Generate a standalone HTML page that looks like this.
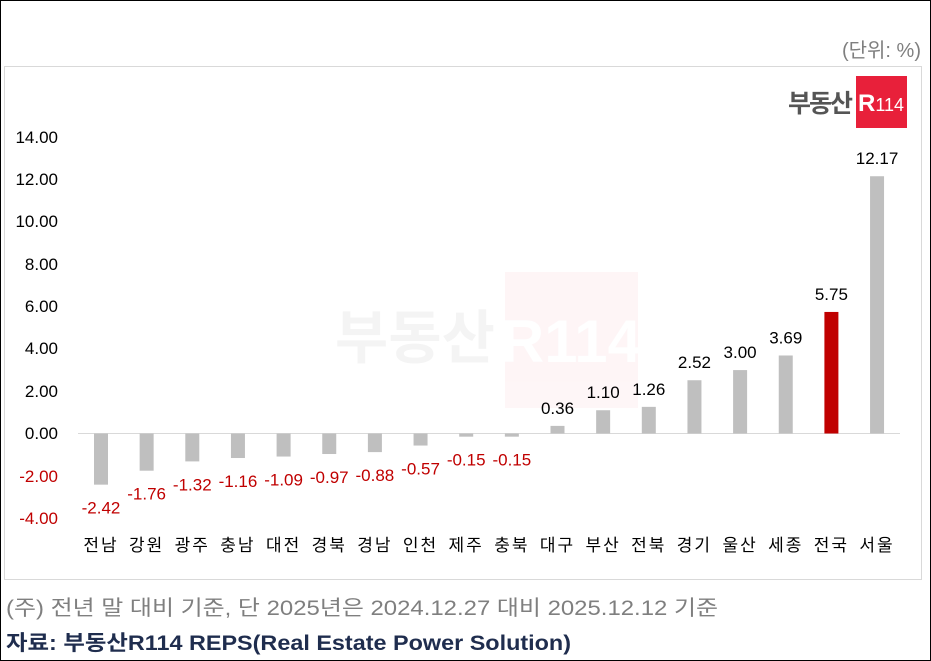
<!DOCTYPE html>
<html><head><meta charset="utf-8"><style>
html,body{margin:0;padding:0;background:#fff}
.wrap{position:relative;width:929px;height:659px;border:1px solid #000;overflow:hidden;font-family:"Liberation Sans","Noto Sans CJK KR",sans-serif}
</style></head><body><div class="wrap">
<svg width="929" height="659" viewBox="1 1 929 659" xmlns="http://www.w3.org/2000/svg" style="position:absolute;left:0;top:0">
<rect x="4.5" y="66.5" width="917" height="513" fill="none" stroke="#d9d9d9"/>
<text x="921" y="57" font-size="20" fill="#7f7f7f" text-anchor="end" font-family="Liberation Sans, Noto Sans CJK KR, sans-serif">(단위: %)</text>
<text x="851" y="112" font-size="25" font-weight="bold" fill="#555" text-anchor="end" font-family="Noto Sans CJK KR, sans-serif" letter-spacing="-2">부동산</text>
<rect x="856" y="76" width="51" height="52" fill="#e8203a"/>
<text x="881" y="111" font-size="24" font-weight="bold" fill="#fff" text-anchor="middle" font-family="Liberation Sans, sans-serif">R<tspan font-size="18" font-weight="normal">114</tspan></text>
<g opacity="0.04">
<text x="495" y="358" font-size="58" font-weight="bold" fill="#000" text-anchor="end" font-family="Noto Sans CJK KR, sans-serif">부동산</text>
<rect x="505" y="272" width="133" height="136" fill="#e8203a"/>
<text x="571" y="362" font-size="60" font-weight="bold" fill="#fff" text-anchor="middle">R114</text>
</g>
<line x1="78" y1="433.5" x2="900" y2="433.5" stroke="#d9d9d9"/>
<g font-size="17" text-anchor="end" font-family="Liberation Sans, sans-serif">
<text x="58" y="143" fill="#000">14.00</text>
<text x="58" y="185" fill="#000">12.00</text>
<text x="58" y="227" fill="#000">10.00</text>
<text x="58" y="270" fill="#000">8.00</text>
<text x="58" y="312" fill="#000">6.00</text>
<text x="58" y="354" fill="#000">4.00</text>
<text x="58" y="397" fill="#000">2.00</text>
<text x="58" y="439" fill="#000">0.00</text>
<text x="58" y="482" fill="#c00000">-2.00</text>
<text x="58" y="524" fill="#c00000">-4.00</text>
</g>
<g id="bars" font-size="17" text-anchor="middle" font-family="Liberation Sans, Noto Sans CJK KR, sans-serif"></g>
<text x="6" y="615" font-size="21" fill="#7f7f7f" textLength="712" lengthAdjust="spacingAndGlyphs" font-family="Liberation Sans, Noto Sans CJK KR, sans-serif">(주) 전년 말 대비 기준, 단 2025년은 2024.12.27 대비 2025.12.12 기준</text>
<text x="6" y="650" font-size="21" font-weight="bold" fill="#1f2d4e" textLength="565" lengthAdjust="spacingAndGlyphs" font-family="Liberation Sans, Noto Sans CJK KR, sans-serif">자료: 부동산R114 REPS(Real Estate Power Solution)</text>
</svg>
<script>
var d=[["전남",-2.42],["강원",-1.76],["광주",-1.32],["충남",-1.16],["대전",-1.09],["경북",-0.97],["경남",-0.88],["인천",-0.57],["제주",-0.15],["충북",-0.15],["대구",0.36],["부산",1.10],["전북",1.26],["경기",2.52],["울산",3.00],["세종",3.69],["전국",5.75],["서울",12.17]];
var g=document.getElementById('bars'),s='';
d.forEach(function(e,i){var cx=101+i*45.65,v=e[1],h=Math.abs(v)*21.14,y0=433.5;
var col=e[0]=='전국'?'#c00000':'#bfbfbf';
if(v>=0){s+='<rect x="'+(cx-7)+'" y="'+(y0-h)+'" width="14" height="'+h+'" fill="'+col+'"/>';
s+='<text x="'+cx+'" y="'+(y0-h-12)+'" fill="#000">'+v.toFixed(2)+'</text>';}
else{s+='<rect x="'+(cx-7)+'" y="'+y0+'" width="14" height="'+h+'" fill="'+col+'"/>';
s+='<text x="'+cx+'" y="'+(y0+h+29)+'" fill="#c00000">'+v.toFixed(2)+'</text>';}
s+='<text x="'+cx+'" y="551" fill="#000" letter-spacing="2">'+e[0]+'</text>';});
g.innerHTML=s;
</script>
</div></body></html>
